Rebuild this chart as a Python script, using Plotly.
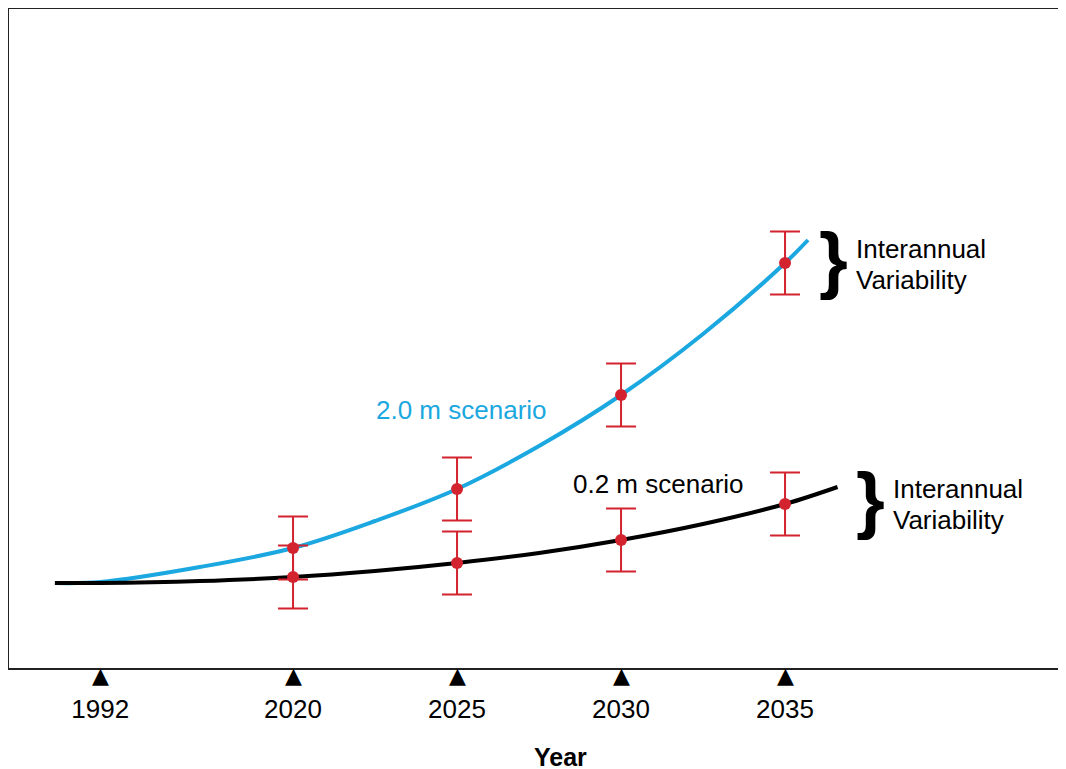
import plotly.graph_objects as go

# Display positions on the x axis (1992 sits on a broken axis segment left of 2020)
tick_pos = [2014.12, 2020, 2025, 2030, 2035]
tick_text = ["1992", "2020", "2025", "2030", "2035"]

# Smooth projection curves
curve_x_blue = [2012.74, 2014.12, 2017.16, 2020, 2022.5, 2025, 2027.5, 2030, 2032.5, 2035, 2035.7]
curve_y_blue = [0.0, 0.01, 0.16, 0.35, 0.62, 0.94, 1.37, 1.88, 2.49, 3.20, 3.43]
curve_x_black = [2012.74, 2014.12, 2017.16, 2020, 2022.5, 2025, 2027.5, 2030, 2032.5, 2035, 2036.6]
curve_y_black = [0.0, 0.0, 0.02, 0.06, 0.12, 0.20, 0.30, 0.43, 0.59, 0.79, 0.96]

# Sample years with interannual variability
sample_years = [2020, 2025, 2030, 2035]
blue_points = [0.35, 0.94, 1.88, 3.20]
black_points = [0.06, 0.20, 0.43, 0.79]
variability = [0.315, 0.315, 0.315, 0.315]

BLUE = "#1ba8e0"
RED = "#d2232f"
FONT = "Liberation Sans, Arial, sans-serif"
FS = 26

fig = go.Figure()
fig.add_trace(go.Scatter(x=curve_x_blue, y=curve_y_blue, mode="lines",
                         line=dict(color=BLUE, width=4, shape="spline"), hoverinfo="skip"))
fig.add_trace(go.Scatter(x=curve_x_black, y=curve_y_black, mode="lines",
                         line=dict(color="black", width=4, shape="spline"), hoverinfo="skip"))
for pts in (blue_points, black_points):
    fig.add_trace(go.Scatter(
        x=sample_years, y=pts, mode="markers",
        marker=dict(color=RED, size=12),
        error_y=dict(type="data", array=variability, color=RED, thickness=2, width=15),
    ))

annos = []
# triangle markers under each tick
for tp in tick_pos:
    annos.append(dict(x=tp, y=-0.0121, yref="paper", text="▲",
                      font=dict(color="black", size=22, family="DejaVu Sans"),
                      xanchor="center", yanchor="middle"))

annos += [
    dict(x=2025.15, y=1.73, text="2.0 m scenario", font=dict(color=BLUE, size=FS, family=FONT),
         xanchor="center", yanchor="middle"),
    dict(x=2031.13, y=0.99, text="0.2 m scenario", font=dict(color="black", size=FS, family=FONT),
         xanchor="center", yanchor="middle"),
    dict(x=2037.10, y=3.34, text="Interannual", font=dict(color="black", size=FS, family=FONT),
         xanchor="left", yanchor="middle"),
    dict(x=2037.10, y=3.03, text="Variability", font=dict(color="black", size=FS, family=FONT),
         xanchor="left", yanchor="middle"),
    dict(x=2038.23, y=0.94, text="Interannual", font=dict(color="black", size=FS, family=FONT),
         xanchor="left", yanchor="middle"),
    dict(x=2038.23, y=0.63, text="Variability", font=dict(color="black", size=FS, family=FONT),
         xanchor="left", yanchor="middle"),
    dict(x=2036.48, y=3.24, text="<b>}</b>", font=dict(color="black", size=74, family=FONT),
         xanchor="center", yanchor="middle"),
    dict(x=2037.62, y=0.84, text="<b>}</b>", font=dict(color="black", size=74, family=FONT),
         xanchor="center", yanchor="middle"),
    dict(x=0.5174, y=-0.135, xref="paper", yref="paper", text="<b>Year</b>",
         font=dict(color="black", size=25, family=FONT), xanchor="center", yanchor="middle"),
]
for a in annos:
    a.setdefault("showarrow", False)
    fig.add_annotation(**a)

fig.update_layout(
    width=1066, height=769,
    margin=dict(l=1, r=0, t=1, b=109),
    plot_bgcolor="white", paper_bgcolor="white",
    showlegend=False,
    font=dict(family=FONT, size=FS, color="black"),
)
fig.update_xaxes(range=[2011.34, 2043.81], showgrid=False, zeroline=False,
                 showline=True, linecolor="#222", linewidth=2, mirror=True,
                 tickvals=tick_pos, ticktext=tick_text, ticks="outside",
                 ticklen=17, tickcolor="rgba(0,0,0,0)", tickfont=dict(size=FS, family=FONT))
fig.update_yaxes(range=[-0.85, 5.74], showgrid=False, zeroline=False,
                 showline=True, linecolor="#222", linewidth=2, mirror=False,
                 showticklabels=False, ticks="")

fig.write_html("out.html")
